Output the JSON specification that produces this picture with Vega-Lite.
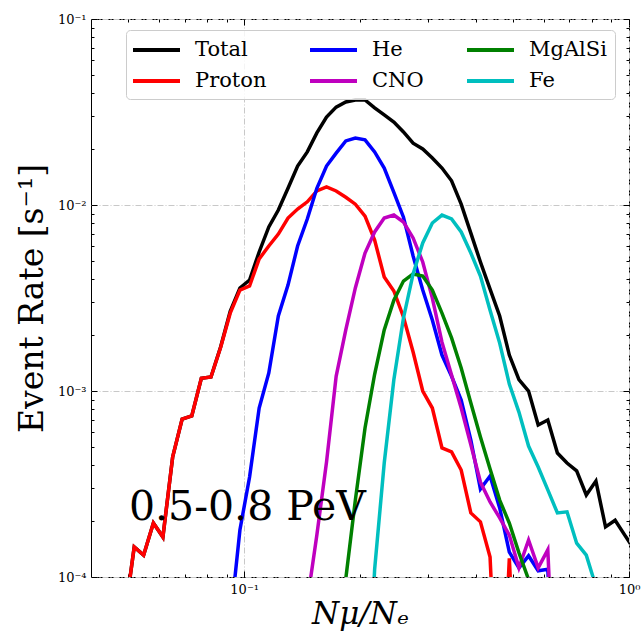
{
  "$schema": "https://vega.github.io/schema/vega-lite/v6.json",
  "width": 538,
  "height": 558,
  "autosize": {"type": "none"},
  "padding": {"left": 91, "top": 19, "right": 12, "bottom": 60},
  "background": "white",
  "config": {
    "view": {"stroke": "#000000", "strokeWidth": 1},
    "axis": {
      "labelFont": "DejaVu Serif", "labelFontSize": 13, "labelColor": "#000000",
      "titleFont": "DejaVu Serif", "titleFontWeight": "normal", "titleColor": "#000000",
      "tickColor": "#000000", "domain": false,
      "gridColor": "#c8c8c8", "gridDash": [6, 2, 1, 2], "gridWidth": 1
    },
    "legend": {
      "orient": "none", "legendX": 35, "legendY": 11, "columns": 3,
      "symbolType": "M-2.35,0L2.35,0", "symbolSize": 400, "symbolStrokeWidth": 4, "symbolOffset": 10.5,
      "labelFont": "DejaVu Serif", "labelFontSize": 21, "labelColor": "#000000",
      "labelOffset": 26.5, "columnPadding": 35, "rowPadding": 9, "padding": 8,
      "fillColor": "rgba(255,255,255,0.8)", "strokeColor": "#cccccc", "cornerRadius": 4
    }
  },
  "datasets": {
    "curves": [
      {"s": "Total", "x": 0.04887, "y": 6e-5},
      {"s": "Total", "x": 0.0518, "y": 1.45e-4},
      {"s": "Total", "x": 0.0548, "y": 1.31e-4},
      {"s": "Total", "x": 0.0581, "y": 1.95e-4},
      {"s": "Total", "x": 0.0615, "y": 1.64e-4},
      {"s": "Total", "x": 0.0652, "y": 4.42e-4},
      {"s": "Total", "x": 0.0690, "y": 7.07e-4},
      {"s": "Total", "x": 0.0731, "y": 7.34e-4},
      {"s": "Total", "x": 0.0774, "y": 1.17e-3},
      {"s": "Total", "x": 0.0820, "y": 1.19e-3},
      {"s": "Total", "x": 0.0869, "y": 1.73e-3},
      {"s": "Total", "x": 0.0920, "y": 2.68e-3},
      {"s": "Total", "x": 0.0975, "y": 3.58e-3},
      {"s": "Total", "x": 0.1033, "y": 3.95e-3},
      {"s": "Total", "x": 0.1094, "y": 5.59e-3},
      {"s": "Total", "x": 0.1159, "y": 7.62e-3},
      {"s": "Total", "x": 0.1227, "y": 9.4e-3},
      {"s": "Total", "x": 0.1300, "y": 1.23e-2},
      {"s": "Total", "x": 0.1377, "y": 1.62e-2},
      {"s": "Total", "x": 0.1459, "y": 1.93e-2},
      {"s": "Total", "x": 0.1545, "y": 2.44e-2},
      {"s": "Total", "x": 0.1637, "y": 2.97e-2},
      {"s": "Total", "x": 0.1734, "y": 3.36e-2},
      {"s": "Total", "x": 0.1837, "y": 3.58e-2},
      {"s": "Total", "x": 0.1945, "y": 3.67e-2},
      {"s": "Total", "x": 0.2061, "y": 3.67e-2},
      {"s": "Total", "x": 0.2183, "y": 3.33e-2},
      {"s": "Total", "x": 0.2312, "y": 3.05e-2},
      {"s": "Total", "x": 0.2449, "y": 2.79e-2},
      {"s": "Total", "x": 0.2594, "y": 2.47e-2},
      {"s": "Total", "x": 0.2748, "y": 2.15e-2},
      {"s": "Total", "x": 0.2911, "y": 2.0e-2},
      {"s": "Total", "x": 0.3083, "y": 1.79e-2},
      {"s": "Total", "x": 0.3266, "y": 1.58e-2},
      {"s": "Total", "x": 0.3459, "y": 1.35e-2},
      {"s": "Total", "x": 0.3664, "y": 1.01e-2},
      {"s": "Total", "x": 0.3882, "y": 7.06e-3},
      {"s": "Total", "x": 0.4111, "y": 4.94e-3},
      {"s": "Total", "x": 0.4355, "y": 3.53e-3},
      {"s": "Total", "x": 0.4613, "y": 2.53e-3},
      {"s": "Total", "x": 0.4887, "y": 1.56e-3},
      {"s": "Total", "x": 0.5176, "y": 1.15e-3},
      {"s": "Total", "x": 0.5483, "y": 1.0e-3},
      {"s": "Total", "x": 0.5808, "y": 6.56e-4},
      {"s": "Total", "x": 0.6152, "y": 6.98e-4},
      {"s": "Total", "x": 0.6516, "y": 4.64e-4},
      {"s": "Total", "x": 0.6902, "y": 4.10e-4},
      {"s": "Total", "x": 0.7311, "y": 3.72e-4},
      {"s": "Total", "x": 0.7745, "y": 2.76e-4},
      {"s": "Total", "x": 0.8204, "y": 3.28e-4},
      {"s": "Total", "x": 0.8690, "y": 1.86e-4},
      {"s": "Total", "x": 0.9204, "y": 2.02e-4},
      {"s": "Total", "x": 0.9750, "y": 1.68e-4},
      {"s": "Total", "x": 1.0328, "y": 1.40e-4},

      {"s": "Proton", "x": 0.04887, "y": 6e-5},
      {"s": "Proton", "x": 0.0518, "y": 1.45e-4},
      {"s": "Proton", "x": 0.0548, "y": 1.31e-4},
      {"s": "Proton", "x": 0.0581, "y": 1.95e-4},
      {"s": "Proton", "x": 0.0615, "y": 1.64e-4},
      {"s": "Proton", "x": 0.0652, "y": 4.42e-4},
      {"s": "Proton", "x": 0.0690, "y": 7.07e-4},
      {"s": "Proton", "x": 0.0731, "y": 7.34e-4},
      {"s": "Proton", "x": 0.0774, "y": 1.17e-3},
      {"s": "Proton", "x": 0.0820, "y": 1.19e-3},
      {"s": "Proton", "x": 0.0869, "y": 1.72e-3},
      {"s": "Proton", "x": 0.0920, "y": 2.62e-3},
      {"s": "Proton", "x": 0.0975, "y": 3.49e-3},
      {"s": "Proton", "x": 0.1033, "y": 3.67e-3},
      {"s": "Proton", "x": 0.1094, "y": 5.13e-3},
      {"s": "Proton", "x": 0.1159, "y": 6.02e-3},
      {"s": "Proton", "x": 0.1227, "y": 6.98e-3},
      {"s": "Proton", "x": 0.1300, "y": 8.51e-3},
      {"s": "Proton", "x": 0.1377, "y": 9.51e-3},
      {"s": "Proton", "x": 0.1459, "y": 1.04e-2},
      {"s": "Proton", "x": 0.1545, "y": 1.19e-2},
      {"s": "Proton", "x": 0.1637, "y": 1.25e-2},
      {"s": "Proton", "x": 0.1734, "y": 1.19e-2},
      {"s": "Proton", "x": 0.1837, "y": 1.10e-2},
      {"s": "Proton", "x": 0.1945, "y": 1.01e-2},
      {"s": "Proton", "x": 0.2061, "y": 8.72e-3},
      {"s": "Proton", "x": 0.2183, "y": 6.48e-3},
      {"s": "Proton", "x": 0.2312, "y": 4.10e-3},
      {"s": "Proton", "x": 0.2449, "y": 3.45e-3},
      {"s": "Proton", "x": 0.2594, "y": 2.50e-3},
      {"s": "Proton", "x": 0.2748, "y": 1.62e-3},
      {"s": "Proton", "x": 0.2911, "y": 1.0e-3},
      {"s": "Proton", "x": 0.3083, "y": 8.1e-4},
      {"s": "Proton", "x": 0.3266, "y": 4.94e-4},
      {"s": "Proton", "x": 0.3459, "y": 4.70e-4},
      {"s": "Proton", "x": 0.3664, "y": 3.76e-4},
      {"s": "Proton", "x": 0.3882, "y": 2.21e-4},
      {"s": "Proton", "x": 0.4111, "y": 1.98e-4},
      {"s": "Proton", "x": 0.4355, "y": 1.28e-4},
      {"s": "Proton", "x": 0.4613, "y": 1e-5},
      {"s": "Proton", "x": 0.4887, "y": 1.26e-4},
      {"s": "Proton", "x": 0.5176, "y": 1e-5},

      {"s": "He", "x": 0.0920, "y": 5.7e-5},
      {"s": "He", "x": 0.0975, "y": 1.79e-4},
      {"s": "He", "x": 0.1033, "y": 3.45e-4},
      {"s": "He", "x": 0.1094, "y": 8.1e-4},
      {"s": "He", "x": 0.1159, "y": 1.25e-3},
      {"s": "He", "x": 0.1227, "y": 2.53e-3},
      {"s": "He", "x": 0.1300, "y": 3.71e-3},
      {"s": "He", "x": 0.1377, "y": 6.02e-3},
      {"s": "He", "x": 0.1459, "y": 8.41e-3},
      {"s": "He", "x": 0.1545, "y": 1.23e-2},
      {"s": "He", "x": 0.1637, "y": 1.62e-2},
      {"s": "He", "x": 0.1734, "y": 1.90e-2},
      {"s": "He", "x": 0.1837, "y": 2.21e-2},
      {"s": "He", "x": 0.1945, "y": 2.29e-2},
      {"s": "He", "x": 0.2061, "y": 2.24e-2},
      {"s": "He", "x": 0.2183, "y": 1.93e-2},
      {"s": "He", "x": 0.2312, "y": 1.58e-2},
      {"s": "He", "x": 0.2449, "y": 1.17e-2},
      {"s": "He", "x": 0.2594, "y": 8.6e-3},
      {"s": "He", "x": 0.2748, "y": 5.32e-3},
      {"s": "He", "x": 0.2911, "y": 3.49e-3},
      {"s": "He", "x": 0.3083, "y": 2.41e-3},
      {"s": "He", "x": 0.3266, "y": 1.56e-3},
      {"s": "He", "x": 0.3459, "y": 1.2e-3},
      {"s": "He", "x": 0.3664, "y": 8.95e-4},
      {"s": "He", "x": 0.3882, "y": 5.45e-4},
      {"s": "He", "x": 0.4111, "y": 2.97e-4},
      {"s": "He", "x": 0.4355, "y": 3.49e-4},
      {"s": "He", "x": 0.4613, "y": 2.35e-4},
      {"s": "He", "x": 0.4887, "y": 1.36e-4},
      {"s": "He", "x": 0.5176, "y": 1.12e-4},
      {"s": "He", "x": 0.5483, "y": 1.30e-4},
      {"s": "He", "x": 0.5808, "y": 1.08e-4},
      {"s": "He", "x": 0.6152, "y": 1.10e-4},
      {"s": "He", "x": 0.6516, "y": 1e-5},

      {"s": "CNO", "x": 0.1377, "y": 1e-5},
      {"s": "CNO", "x": 0.1459, "y": 7.4e-5},
      {"s": "CNO", "x": 0.1545, "y": 1.68e-4},
      {"s": "CNO", "x": 0.1637, "y": 4.15e-4},
      {"s": "CNO", "x": 0.1734, "y": 1.2e-3},
      {"s": "CNO", "x": 0.1837, "y": 2.13e-3},
      {"s": "CNO", "x": 0.1945, "y": 3.58e-3},
      {"s": "CNO", "x": 0.2061, "y": 5.52e-3},
      {"s": "CNO", "x": 0.2183, "y": 7.16e-3},
      {"s": "CNO", "x": 0.2312, "y": 8.51e-3},
      {"s": "CNO", "x": 0.2449, "y": 8.83e-3},
      {"s": "CNO", "x": 0.2594, "y": 8.1e-3},
      {"s": "CNO", "x": 0.2748, "y": 6.65e-3},
      {"s": "CNO", "x": 0.2911, "y": 4.94e-3},
      {"s": "CNO", "x": 0.3083, "y": 3.16e-3},
      {"s": "CNO", "x": 0.3266, "y": 1.83e-3},
      {"s": "CNO", "x": 0.3459, "y": 1.22e-3},
      {"s": "CNO", "x": 0.3664, "y": 8.1e-4},
      {"s": "CNO", "x": 0.3882, "y": 5.13e-4},
      {"s": "CNO", "x": 0.4111, "y": 3.24e-4},
      {"s": "CNO", "x": 0.4355, "y": 2.53e-4},
      {"s": "CNO", "x": 0.4613, "y": 2.08e-4},
      {"s": "CNO", "x": 0.4887, "y": 1.68e-4},
      {"s": "CNO", "x": 0.5176, "y": 1.12e-4},
      {"s": "CNO", "x": 0.5483, "y": 1.58e-4},
      {"s": "CNO", "x": 0.5808, "y": 1.12e-4},
      {"s": "CNO", "x": 0.6152, "y": 1.40e-4},
      {"s": "CNO", "x": 0.6516, "y": 1e-5},

      {"s": "MgAlSi", "x": 0.1734, "y": 1e-5},
      {"s": "MgAlSi", "x": 0.1837, "y": 9.8e-5},
      {"s": "MgAlSi", "x": 0.1945, "y": 2.59e-4},
      {"s": "MgAlSi", "x": 0.2061, "y": 6.32e-4},
      {"s": "MgAlSi", "x": 0.2183, "y": 1.23e-3},
      {"s": "MgAlSi", "x": 0.2312, "y": 2.13e-3},
      {"s": "MgAlSi", "x": 0.2449, "y": 3.08e-3},
      {"s": "MgAlSi", "x": 0.2594, "y": 3.9e-3},
      {"s": "MgAlSi", "x": 0.2748, "y": 4.26e-3},
      {"s": "MgAlSi", "x": 0.2911, "y": 4.15e-3},
      {"s": "MgAlSi", "x": 0.3083, "y": 3.49e-3},
      {"s": "MgAlSi", "x": 0.3266, "y": 2.62e-3},
      {"s": "MgAlSi", "x": 0.3459, "y": 1.93e-3},
      {"s": "MgAlSi", "x": 0.3664, "y": 1.33e-3},
      {"s": "MgAlSi", "x": 0.3882, "y": 8.62e-4},
      {"s": "MgAlSi", "x": 0.4111, "y": 5.66e-4},
      {"s": "MgAlSi", "x": 0.4355, "y": 3.81e-4},
      {"s": "MgAlSi", "x": 0.4613, "y": 2.59e-4},
      {"s": "MgAlSi", "x": 0.4887, "y": 1.95e-4},
      {"s": "MgAlSi", "x": 0.5176, "y": 1.35e-4},
      {"s": "MgAlSi", "x": 0.5483, "y": 9.7e-5},
      {"s": "MgAlSi", "x": 0.5808, "y": 1e-5},

      {"s": "Fe", "x": 0.2061, "y": 1e-5},
      {"s": "Fe", "x": 0.2183, "y": 1.1e-4},
      {"s": "Fe", "x": 0.2312, "y": 4.1e-4},
      {"s": "Fe", "x": 0.2449, "y": 1.15e-3},
      {"s": "Fe", "x": 0.2594, "y": 2.47e-3},
      {"s": "Fe", "x": 0.2748, "y": 4.26e-3},
      {"s": "Fe", "x": 0.2911, "y": 6.25e-3},
      {"s": "Fe", "x": 0.3083, "y": 8.0e-3},
      {"s": "Fe", "x": 0.3266, "y": 8.83e-3},
      {"s": "Fe", "x": 0.3459, "y": 8.41e-3},
      {"s": "Fe", "x": 0.3664, "y": 7.16e-3},
      {"s": "Fe", "x": 0.3882, "y": 5.52e-3},
      {"s": "Fe", "x": 0.4111, "y": 4.15e-3},
      {"s": "Fe", "x": 0.4355, "y": 2.72e-3},
      {"s": "Fe", "x": 0.4613, "y": 1.81e-3},
      {"s": "Fe", "x": 0.4887, "y": 1.09e-3},
      {"s": "Fe", "x": 0.5176, "y": 7.7e-4},
      {"s": "Fe", "x": 0.5483, "y": 5.06e-4},
      {"s": "Fe", "x": 0.5808, "y": 3.9e-4},
      {"s": "Fe", "x": 0.6152, "y": 2.94e-4},
      {"s": "Fe", "x": 0.6516, "y": 2.21e-4},
      {"s": "Fe", "x": 0.6902, "y": 2.24e-4},
      {"s": "Fe", "x": 0.7311, "y": 1.52e-4},
      {"s": "Fe", "x": 0.7745, "y": 1.31e-4},
      {"s": "Fe", "x": 0.8204, "y": 8.9e-5},
      {"s": "Fe", "x": 0.8690, "y": 1e-5}
    ],
    "note": [
      {"x": 0.0502, "y": 2.03e-4, "label": "0.5-0.8 PeV"}
    ]
  },
  "layer": [
    {
      "data": {"name": "curves"},
      "mark": {"type": "line", "strokeWidth": 3.5, "clip": true},
      "encoding": {
        "x": {
          "field": "x", "type": "quantitative",
          "scale": {"type": "log", "domain": [0.04, 1.0], "nice": false},
          "axis": {
            "orient": "bottom", "values": [0.1, 1], "ticks": false, "grid": true,
            "labelExpr": "datum.value < 0.5 ? '10⁻¹' : '10⁰'",
            "labelPadding": 6, "labelFlush": false,
            "title": "Nμ/Nₑ", "titleFontSize": 31, "titleFontStyle": "italic", "titlePadding": 3
          }
        },
        "y": {
          "field": "y", "type": "quantitative",
          "scale": {"type": "log", "domain": [0.0001, 0.1], "nice": false},
          "axis": {
            "orient": "left", "values": [0.0001, 0.001, 0.01, 0.1], "ticks": false, "grid": true,
            "labelExpr": "datum.value < 0.0005 ? '10⁻⁴' : datum.value < 0.005 ? '10⁻³' : datum.value < 0.05 ? '10⁻²' : '10⁻¹'",
            "labelPadding": 5, "labelFlush": false,
            "title": "Event Rate [s⁻¹]", "titleFontSize": 33, "titlePadding": 8
          }
        },
        "color": {
          "field": "s", "type": "nominal",
          "scale": {
            "domain": ["Total", "Proton", "He", "CNO", "MgAlSi", "Fe"],
            "range": ["#000000", "#ff0000", "#0000ff", "#bf00bf", "#008000", "#00bfbf"]
          },
          "legend": {"title": null}
        }
      }
    },
    {
      "data": {"name": "note"},
      "mark": {"type": "text", "font": "DejaVu Serif", "fontSize": 41, "align": "left", "baseline": "alphabetic", "color": "#000000"},
      "encoding": {
        "x": {"field": "x", "type": "quantitative", "scale": {"type": "log", "domain": [0.04, 1.0], "nice": false},
          "axis": {"orient": "bottom", "values": [0.1, 1], "labels": false, "grid": false, "tickSize": -6, "title": null}},
        "y": {"field": "y", "type": "quantitative", "scale": {"type": "log", "domain": [0.0001, 0.1], "nice": false},
          "axis": {"orient": "left", "values": [0.0001, 0.001, 0.01, 0.1], "labels": false, "grid": false, "tickSize": -6, "title": null}},
        "text": {"field": "label"}
      }
    },
    {
      "data": {"name": "note"},
      "mark": {"type": "point", "opacity": 0},
      "encoding": {
        "x": {"field": "x", "type": "quantitative", "scale": {"type": "log", "domain": [0.04, 1.0], "nice": false},
          "axis": {"orient": "bottom", "values": [0.05, 0.06, 0.07, 0.08, 0.09, 0.2, 0.3, 0.4, 0.5, 0.6, 0.7, 0.8, 0.9], "labels": false, "grid": false, "tickSize": -3, "title": null}},
        "y": {"field": "y", "type": "quantitative", "scale": {"type": "log", "domain": [0.0001, 0.1], "nice": false},
          "axis": {"orient": "left", "values": [0.0002, 0.0003, 0.0004, 0.0005, 0.0006, 0.0007, 0.0008, 0.0009, 0.002, 0.003, 0.004, 0.005, 0.006, 0.007, 0.008, 0.009, 0.02, 0.03, 0.04, 0.05, 0.06, 0.07, 0.08, 0.09], "labels": false, "grid": false, "tickSize": -3, "title": null}}
      }
    },
    {
      "data": {"name": "note"},
      "mark": {"type": "point", "opacity": 0},
      "encoding": {
        "x": {"field": "x", "type": "quantitative", "scale": {"type": "log", "domain": [0.04, 1.0], "nice": false},
          "axis": {"orient": "top", "values": [0.1, 1], "labels": false, "grid": false, "tickSize": -6, "title": null}},
        "y": {"field": "y", "type": "quantitative", "scale": {"type": "log", "domain": [0.0001, 0.1], "nice": false},
          "axis": {"orient": "right", "values": [0.0001, 0.001, 0.01, 0.1], "labels": false, "grid": false, "tickSize": -6, "title": null}}
      }
    },
    {
      "data": {"name": "note"},
      "mark": {"type": "point", "opacity": 0},
      "encoding": {
        "x": {"field": "x", "type": "quantitative", "scale": {"type": "log", "domain": [0.04, 1.0], "nice": false},
          "axis": {"orient": "top", "values": [0.05, 0.06, 0.07, 0.08, 0.09, 0.2, 0.3, 0.4, 0.5, 0.6, 0.7, 0.8, 0.9], "labels": false, "grid": false, "tickSize": -3, "title": null}},
        "y": {"field": "y", "type": "quantitative", "scale": {"type": "log", "domain": [0.0001, 0.1], "nice": false},
          "axis": {"orient": "right", "values": [0.0002, 0.0003, 0.0004, 0.0005, 0.0006, 0.0007, 0.0008, 0.0009, 0.002, 0.003, 0.004, 0.005, 0.006, 0.007, 0.008, 0.009, 0.02, 0.03, 0.04, 0.05, 0.06, 0.07, 0.08, 0.09], "labels": false, "grid": false, "tickSize": -3, "title": null}}
      }
    }
  ],
  "resolve": {"axis": {"x": "independent", "y": "independent"}}
}
